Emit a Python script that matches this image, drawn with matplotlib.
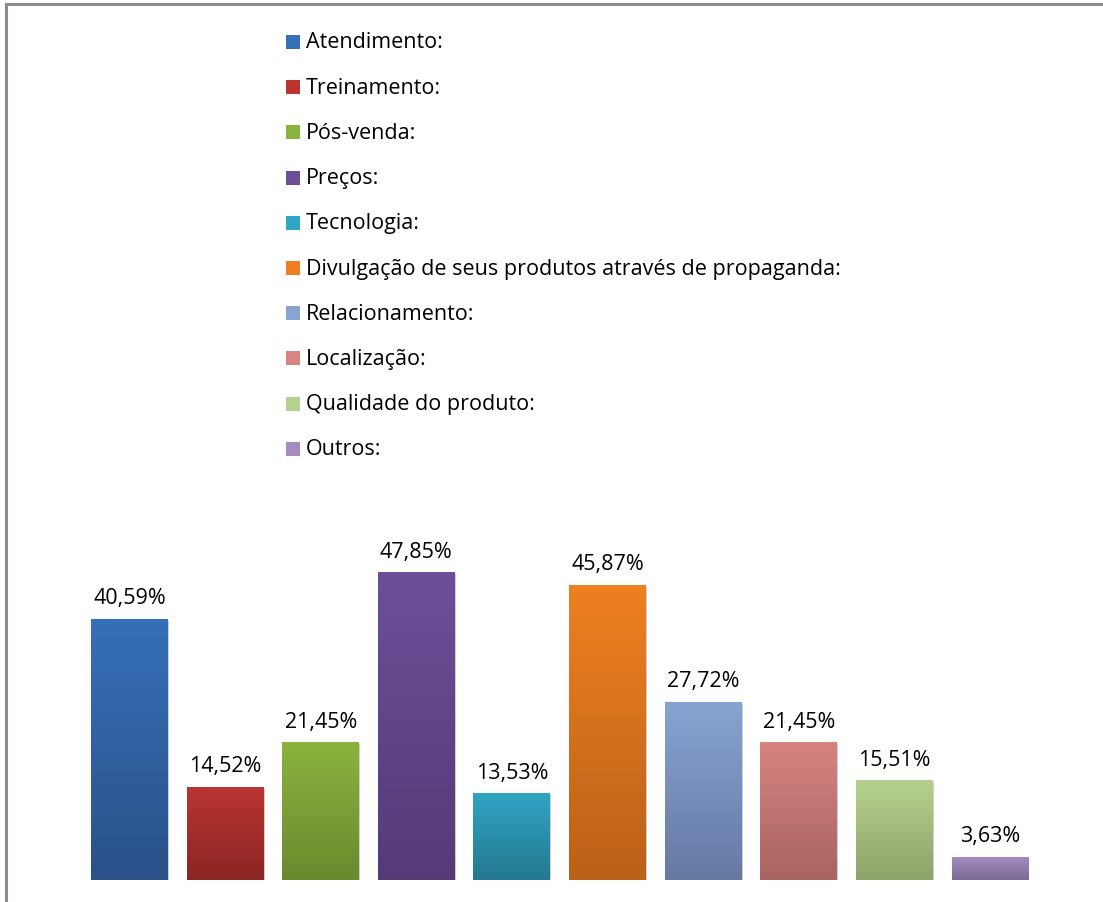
import numpy as np
import matplotlib
matplotlib.use("Agg")
import matplotlib.pyplot as plt
from matplotlib.patches import Rectangle
from matplotlib.colors import LinearSegmentedColormap

categories = ["Atendimento:", "Treinamento:", "Pós-venda:", "Preços:", "Tecnologia:",
              "Divulgação de seus produtos através de propaganda:", "Relacionamento:",
              "Localização:", "Qualidade do produto:", "Outros:"]
values = [40.59, 14.52, 21.45, 47.85, 13.53, 45.87, 27.72, 21.45, 15.51, 3.63]
labels = ["40,59%", "14,52%", "21,45%", "47,85%", "13,53%", "45,87%", "27,72%",
          "21,45%", "15,51%", "3,63%"]
top_colors = ["#3670B9", "#BA3532", "#8AB43E", "#6E4E99", "#31A5C4", "#EF8022",
              "#87A4D3", "#D88481", "#B6D18D", "#A28CC0"]
bot_colors = ["#2A5188", "#8A2523", "#6A8A2E", "#553A78", "#247890", "#BA6118",
              "#6679A3", "#A86462", "#8EA368", "#7C6B95"]

W, H = 1103, 903
fig = plt.figure(figsize=(W / 100, H / 100), dpi=100)
fig.patch.set_facecolor("white")

# frame lines (top and left, gray)
fig.add_artist(plt.Line2D([6 / W, 6 / W], [0, 1 - 4.5 / H], color="#8c8c8c", lw=2.2,
                          transform=fig.transFigure))
fig.add_artist(plt.Line2D([6 / W, 1], [1 - 4.5 / H, 1 - 4.5 / H], color="#8c8c8c", lw=2.2,
                          transform=fig.transFigure))

# axes in pixel coordinates
ax_left, ax_right = 81.7, 1037.8
ax_bottom, ax_top = 881, 494.8
ax = fig.add_axes([ax_left / W, 1 - ax_bottom / H, (ax_right - ax_left) / W,
                   (ax_bottom - ax_top) / H])
ax.set_xlim(-0.5, len(values) - 0.5)
ax.set_ylim(0, 60)
ax.axis("off")

FS = 15.5
x = np.arange(len(values))
bw = 0.805
grad = np.linspace(0, 1, 256).reshape(-1, 1)
for i, (v, tc, bc) in enumerate(zip(values, top_colors, bot_colors)):
    # shadow
    sh = Rectangle((x[i] - bw / 2 + 0.01, -0.35), bw, v, facecolor="#b0b0b0",
                   edgecolor="none", alpha=0.6, zorder=1)
    ax.add_patch(sh)
    bar = ax.bar(x[i], v, width=bw, color=tc, zorder=2)[0]
    cmap = LinearSegmentedColormap.from_list("g%d" % i, [bc, tc])
    im = ax.imshow(grad, cmap=cmap, origin="lower", aspect="auto",
                   extent=[x[i] - bw / 2, x[i] + bw / 2, 0, v], zorder=3)
    im.set_clip_path(bar)
    ax.annotate(labels[i], (x[i], v), xytext=(0, 15.0), textcoords="offset points",
                ha="center", va="center", fontsize=FS, family="Open Sans",
                color="black", zorder=4)
ax.set_xlim(-0.5, len(values) - 0.5)
ax.set_ylim(0, 60)

# legend
for j, (cat, tc, bc) in enumerate(zip(categories, top_colors, bot_colors)):
    yc = 43 + j * 45.2
    sq = Rectangle((286 / W, 1 - (yc + 7) / H), 14 / W, 14 / H, transform=fig.transFigure,
                   facecolor=tc, edgecolor="none")
    fig.add_artist(sq)
    fig.text(306 / W, 1 - yc / H, cat, ha="left", va="center", fontsize=FS,
             family="Open Sans", color="black")

fig.savefig("out.png", dpi=100, facecolor="white")
